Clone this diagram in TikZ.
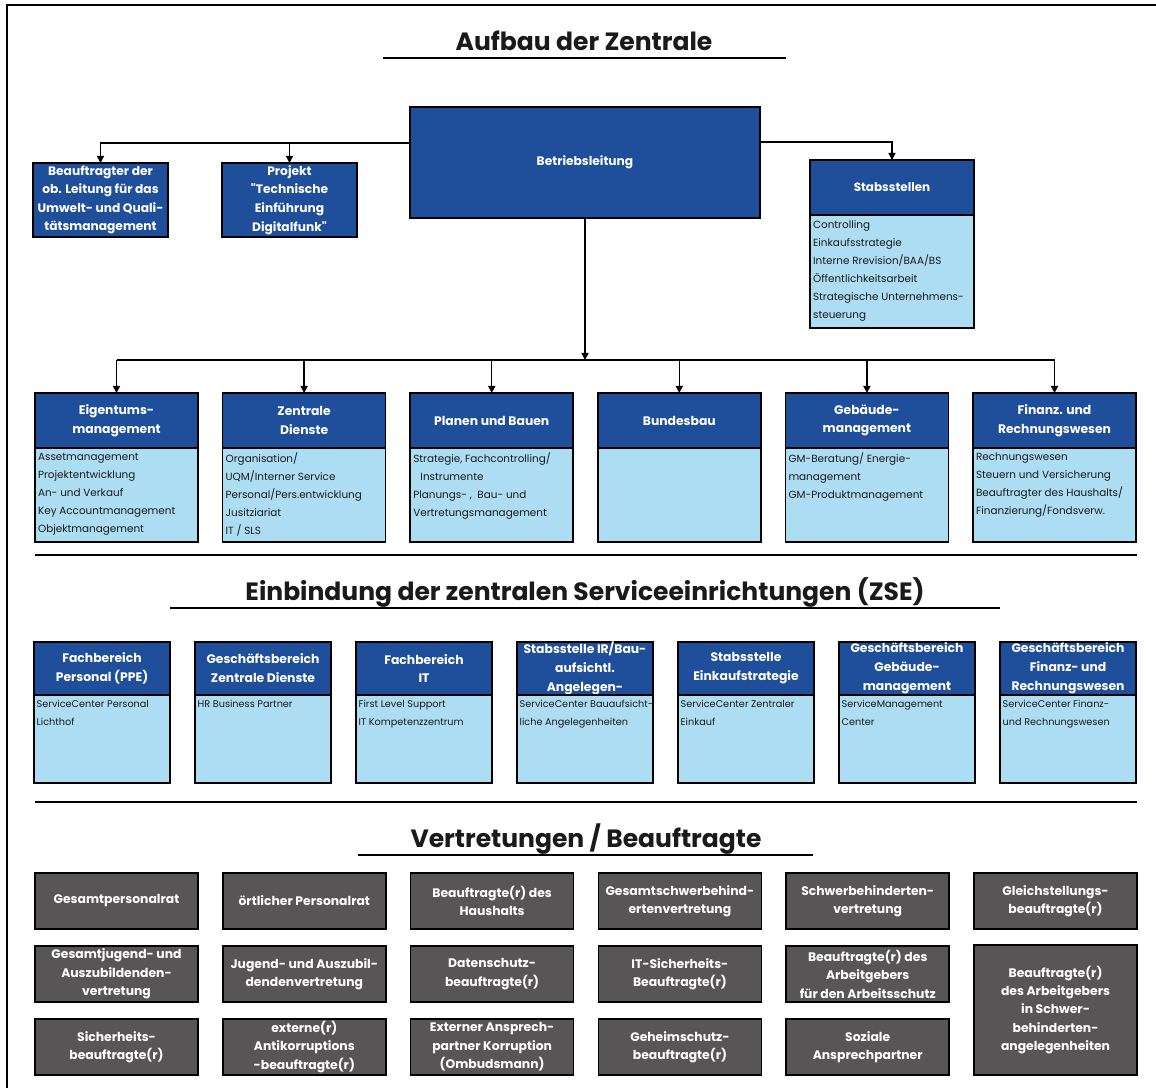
\documentclass[tikz,border=0pt]{standalone}
\usepackage{fontspec}
\setmainfont{Poppins}[Ligatures=TeXOff]
\usetikzlibrary{positioning, arrows.meta}
\definecolor{hdblue}{HTML}{1F4E9B}
\definecolor{bdblue}{HTML}{ADDDF2}
\definecolor{repgrey}{HTML}{585557}
\definecolor{ink}{HTML}{1A1A1A}
\tikzset{
  hdbox/.style={draw=black, fill=hdblue, line width=1.2pt, outer sep=0pt, inner sep=0pt},
  hdtxt/.style={text=white, align=center, inner sep=0pt,
                font=\bfseries\fontsize{8.8}{13.4}\selectfont},
  topbox/.style={hdbox, hdtxt, font=\bfseries\fontsize{8.7}{13.2}\selectfont},
  bdbox/.style={draw=black, fill=bdblue, line width=1.2pt, outer sep=0pt, inner sep=0pt},
  bdtxt/.style={anchor=north west, align=left, text=ink, inner sep=0pt,
                font=\fontsize{7.4}{12.8}\selectfont},
  zbdtxt/.style={bdtxt, font=\fontsize{6.9}{12.8}\selectfont},
  rowa/.style={minimum width=40.75mm, minimum height=13.75mm},
  rowab/.style={minimum width=40.75mm, minimum height=23.5mm},
  zse/.style={minimum width=34mm, minimum height=13.25mm},
  zseb/.style={minimum width=34mm, minimum height=22mm},
  repbox/.style={draw=black, fill=repgrey, line width=1.2pt, outer sep=0pt, inner sep=0pt,
                 minimum width=40.75mm, minimum height=14mm, text=white, align=center,
                 font=\bfseries\fontsize{8.8}{13.1}\selectfont},
  ttl/.style={anchor=base, text=ink, inner sep=0pt, font=\bfseries\fontsize{17.8}{20}\selectfont},
  uline/.style={line width=1.2pt},
  arr/.style={-{Triangle[length=1.8mm, width=1.8mm]}, line width=1.1pt},
}

\begin{document}
\begin{tikzpicture}[x=0.25mm, y=-0.25mm]
  \useasboundingbox (0,0) rectangle (1156,1088);
  % page frame
  \draw[line width=1.3pt] (7,1088) -- (7,5) -- (1156,5);

  % ---------- Aufbau der Zentrale ----------
  \node[ttl] (ttlA) at (584,50) {Aufbau der Zentrale};
  \draw[uline] (383,58) -- (786,58);

  \node[topbox, minimum width=87.5mm, minimum height=27.75mm] (bl) at (585,162.5) {Betriebsleitung};
  \node[topbox, minimum width=33.75mm, minimum height=18.5mm] (uqm) at (100.5,200)
    {Beauftragter der\\ob. Leitung für das\\Umwelt- und Quali-\\tätsmanagement};
  \node[topbox, minimum width=33.75mm, minimum height=18.5mm] (dfk) at (289.5,200)
    {Projekt\\"Technische\\Einführung\\Digitalfunk"};

  \node[hdbox, minimum width=41mm, minimum height=13.75mm] (sth) at (892,187.5) {};
  \node[hdtxt, font=\bfseries\fontsize{8.5}{13}\selectfont] at (sth) {Stabsstellen};
  \node[bdbox, below=0pt of sth, minimum width=41mm, minimum height=28.25mm] (stb) {};
  \node[bdtxt] at ([xshift=0.7mm, yshift=-1.4mm]stb.north west)
    {Controlling\\Einkaufsstrategie\\Interne Rrevision/BAA/BS\\Öffentlichkeitsarbeit\\Strategische Unternehmens-\\steuerung};

  \coordinate (bll) at (410,143);
  \coordinate (blr) at (760,142);
  \draw[arr] (bll) -| (uqm.north);
  \draw[arr] (bll -| dfk.north) -- (dfk.north);
  \draw[arr] (blr) -| (sth.north);

  % Eigentumsmanagement
  \node[hdbox, rowa] (eh) at (116.5,420.5) {};
  \node[hdtxt] at (eh) {Eigentums-\\management};
  \node[bdbox, rowab, below=0pt of eh] (eb) {};
  \node[bdtxt] at ([xshift=0.7mm, yshift=-1.2mm]eb.north west)
    {Assetmanagement\\Projektentwicklung\\An- und Verkauf\\Key Accountmanagement\\Objektmanagement};
  % Zentrale Dienste
  \node[hdbox, rowa, right=6.15mm of eh] (zh) {};
  \node[hdtxt] at (zh) {Zentrale\\Dienste};
  \node[bdbox, rowab, below=0pt of zh] (zb) {};
  \node[bdtxt] at ([xshift=0.7mm, yshift=-1.2mm]zb.north west)
    {Organisation/\\UQM/Interner Service\\Personal/Pers.entwicklung\\Jusitziariat\\IT / SLS};
  % Planen und Bauen
  \node[hdbox, rowa, right=6.15mm of zh] (ph) {};
  \node[hdtxt] at (ph) {Planen und Bauen};
  \node[bdbox, rowab, below=0pt of ph] (pb) {};
  \node[bdtxt] at ([xshift=0.7mm, yshift=-1.2mm]pb.north west)
    {Strategie, Fachcontrolling/\\\hspace*{1.8mm}Instrumente\\Planungs- ,\ \ Bau- und\\Vertretungsmanagement};
  % Bundesbau
  \node[hdbox, rowa, right=6.15mm of ph] (bh) {};
  \node[hdtxt] at (bh) {Bundesbau};
  \node[bdbox, rowab, below=0pt of bh] (bb) {};
  % Gebaeudemanagement
  \node[hdbox, rowa, right=6.15mm of bh] (gh) {};
  \node[hdtxt] at (gh) {Gebäude-\\management};
  \node[bdbox, rowab, below=0pt of gh] (gb) {};
  \node[bdtxt] at ([xshift=0.7mm, yshift=-1.2mm]gb.north west)
    {GM-Beratung/ Energie-\\management\\GM-Produktmanagement};
  % Finanz- und Rechnungswesen
  \node[hdbox, rowa, right=6.15mm of gh] (fh) {};
  \node[hdtxt] at (fh) {Finanz. und\\Rechnungswesen};
  \node[bdbox, rowab, below=0pt of fh] (fb) {};
  \node[bdtxt] at ([xshift=0.7mm, yshift=-1.2mm]fb.north west)
    {Rechnungswesen\\Steuern und Versicherung\\Beauftragter des Haushalts/\\Finanzierung/Fondsverw.};

  \coordinate (bus) at (585,360);
  \draw[arr] (bl.south) -- (bl.south |- bus);
  \draw[line width=1.1pt] (eh.north |- bus) -- (fh.north |- bus);
  \foreach \n in {eh, zh, ph, bh, gh, fh}
    \draw[arr] (\n.north |- bus) -- (\n.north);

  \draw[uline] (35,555) -- (1137,555);

  % ---------- ZSE ----------
  \node[ttl] (ttlB) at (585,600) {Einbindung der zentralen Serviceeinrichtungen (ZSE)};
  \draw[uline] (170,608) -- (1000,608);

  \node[hdbox, zse] (z1h) at (102,668.5) {};
  \node[hdtxt] at (z1h) {Fachbereich\\Personal (PPE)};
  \node[bdbox, zseb, below=0pt of z1h] (z1b) {};
  \node[zbdtxt] at ([xshift=0.6mm, yshift=-1.1mm]z1b.north west) {ServiceCenter Personal\\Lichthof};

  \node[hdbox, zse, right=6.25mm of z1h] (z2h) {};
  \node[hdtxt] at (z2h) {Geschäftsbereich\\Zentrale Dienste};
  \node[bdbox, zseb, below=0pt of z2h] (z2b) {};
  \node[zbdtxt] at ([xshift=0.6mm, yshift=-1.1mm]z2b.north west) {HR Business Partner};

  \node[hdbox, zse, right=6.25mm of z2h] (z3h) {};
  \node[hdtxt] at (z3h) {Fachbereich\\IT};
  \node[bdbox, zseb, below=0pt of z3h] (z3b) {};
  \node[zbdtxt] at ([xshift=0.6mm, yshift=-1.1mm]z3b.north west) {First Level Support\\IT Kompetenzzentrum};

  \node[hdbox, zse, right=6.25mm of z3h] (z4h) {};
  \node[hdtxt] at (z4h) {Stabsstelle IR/Bau-\\aufsichtl.\\Angelegen-};
  \node[bdbox, zseb, below=0pt of z4h] (z4b) {};
  \node[zbdtxt] at ([xshift=0.6mm, yshift=-1.1mm]z4b.north west) {ServiceCenter Bauaufsicht-\\liche Angelegenheiten};

  \node[hdbox, zse, right=6.25mm of z4h] (z5h) {};
  \node[hdtxt] at (z5h) {Stabsstelle\\Einkaufstrategie};
  \node[bdbox, zseb, below=0pt of z5h] (z5b) {};
  \node[zbdtxt] at ([xshift=0.6mm, yshift=-1.1mm]z5b.north west) {ServiceCenter Zentraler\\Einkauf};

  \node[hdbox, zse, right=6.25mm of z5h] (z6h) {};
  \node[hdtxt] at (z6h) {Geschäftsbereich\\Gebäude-\\management};
  \node[bdbox, zseb, below=0pt of z6h] (z6b) {};
  \node[zbdtxt] at ([xshift=0.6mm, yshift=-1.1mm]z6b.north west) {ServiceManagement\\Center};

  \node[hdbox, zse, right=6.25mm of z6h] (z7h) {};
  \node[hdtxt] at (z7h) {Geschäftsbereich\\Finanz- und\\Rechnungswesen};
  \node[bdbox, zseb, below=0pt of z7h] (z7b) {};
  \node[zbdtxt] at ([xshift=0.6mm, yshift=-1.1mm]z7b.north west) {ServiceCenter Finanz-\\und Rechnungswesen};

  \draw[uline] (35,802) -- (1137,802);

  % ---------- Vertretungen / Beauftragte ----------
  \node[ttl] (ttlC) at (586,847) {Vertretungen / Beauftragte};
  \draw[uline] (358,855) -- (813,855);

  \node[repbox] (g11) at (116.5,901) {Gesamtpersonalrat};
  \node[repbox, right=6.2mm of g11] (g12) {örtlicher Personalrat};
  \node[repbox, right=6.2mm of g12] (g13) {Beauftragte(r) des\\Haushalts};
  \node[repbox, right=6.2mm of g13] (g14) {Gesamtschwerbehind-\\ertenvertretung};
  \node[repbox, right=6.2mm of g14] (g15) {Schwerbehinderten-\\vertretung};
  \node[repbox, right=6.2mm of g15] (g16) {Gleichstellungs-\\beauftragte(r)};

  \node[repbox, below=4.25mm of g11] (g21) {Gesamtjugend- und\\Auszubildenden-\\vertretung};
  \node[repbox, below=4.25mm of g12] (g22) {Jugend- und Auszubil-\\dendenvertretung};
  \node[repbox, below=4.25mm of g13] (g23) {Datenschutz-\\beauftragte(r)};
  \node[repbox, below=4.25mm of g14] (g24) {IT-Sicherheits-\\Beauftragte(r)};
  \node[repbox, below=4.25mm of g15] (g25) {Beauftragte(r) des\\Arbeitgebers\\für den Arbeitsschutz};
  \node[repbox, below=4mm of g16, minimum height=32.5mm] (g26)
    {Beauftragte(r)\\des Arbeitgebers\\in Schwer-\\behinderten-\\angelegenheiten};

  \node[repbox, below=4.25mm of g21] (g31) {Sicherheits-\\beauftragte(r)};
  \node[repbox, below=4.25mm of g22] (g32) {externe(r)\\Antikorruptions\\-beauftragte(r)};
  \node[repbox, below=4.25mm of g23] (g33) {Externer Ansprech-\\partner Korruption\\(Ombudsmann)};
  \node[repbox, below=4.25mm of g24] (g34) {Geheimschutz-\\beauftragte(r)};
  \node[repbox, below=4.25mm of g25] (g35) {Soziale\\Ansprechpartner};
\end{tikzpicture}
\end{document}
